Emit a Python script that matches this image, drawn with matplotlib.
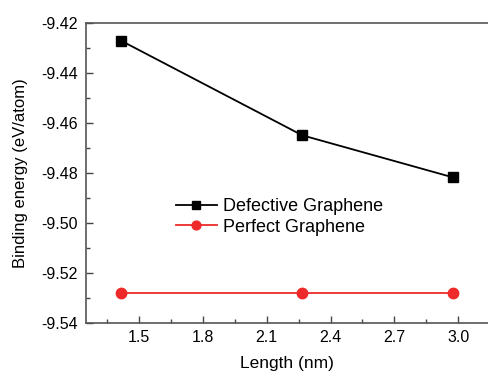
import matplotlib.pyplot as plt
from matplotlib.ticker import MultipleLocator, FormatStrFormatter

plt.rcParams['font.family'] = ['Liberation Sans', 'DejaVu Sans']

# data
length = [1.415, 2.267, 2.975]
defective = [-9.4272, -9.4650, -9.4818]
perfect = [-9.5280, -9.5280, -9.5280]

fig = plt.figure(figsize=(4.88, 3.77), dpi=100)
ax = fig.add_axes([0.176, 0.143, 0.824, 0.797])

ax.plot(length, defective, color='black', lw=1.3, marker='s', ms=6.5,
        label='Defective Graphene')
ax.plot(length, perfect, color='#ee2a2a', lw=1.3, marker='o', ms=7.5,
        label='Perfect Graphene')

ax.set_xlim(1.25, 3.14)
ax.set_ylim(-9.54, -9.42)
ax.xaxis.set_major_locator(MultipleLocator(0.3))
ax.xaxis.set_minor_locator(MultipleLocator(0.15))
ax.yaxis.set_major_locator(MultipleLocator(0.02))
ax.yaxis.set_minor_locator(MultipleLocator(0.01))
ax.xaxis.set_major_formatter(FormatStrFormatter('%.1f'))
ax.yaxis.set_major_formatter(FormatStrFormatter('%.2f'))
ax.tick_params(which='both', direction='in', labelsize=11.5, color='#444444')
ax.tick_params(which='major', length=5, width=1)
ax.tick_params(which='minor', length=3, width=1)
ax.tick_params(axis='y', pad=6)
ax.tick_params(axis='x', pad=5)

ax.spines['right'].set_visible(False)
for s in ['left', 'bottom', 'top']:
    ax.spines[s].set_color('#555555')
    ax.spines[s].set_linewidth(1.2)

ax.set_xlabel('Length (nm)', fontsize=12.5, labelpad=8)
ax.set_ylabel('Binding energy (eV/atom)', fontsize=12, labelpad=9)

leg = ax.legend(loc='upper left', bbox_to_anchor=(0.183, 0.47), frameon=False,
                fontsize=13, handlelength=2.3, handletextpad=0.33,
                labelspacing=0.2, markerscale=0.85)

fig.savefig('out.png', dpi=100)
